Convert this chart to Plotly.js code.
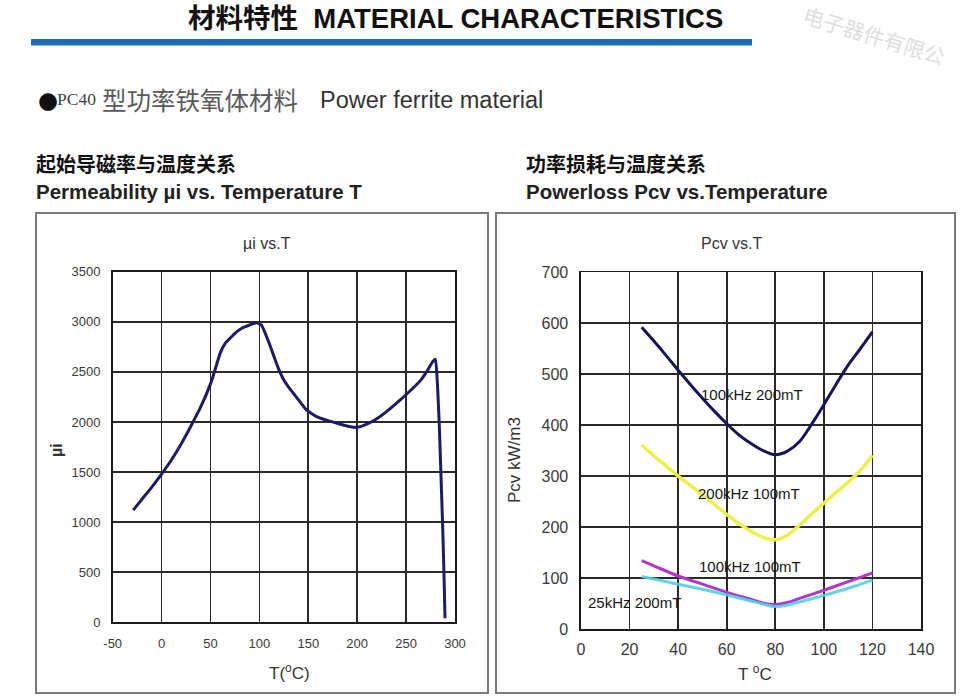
<!DOCTYPE html>
<html>
<head>
<meta charset="utf-8">
<script src="https://cdn.plot.ly/plotly-3.0.1.min.js"></script>
<style>
  html, body { margin: 0; padding: 0; background: #ffffff; }
  #chart { width: 960px; height: 697px; }
</style>
</head>
<body>
<div id="chart"></div>
<script>
// ---- Initial permeability vs temperature ----
const permTemp = [-29, -20, -10, 0, 10, 20, 30, 40, 50, 54, 60, 65, 70, 75, 82, 90, 97, 102, 106, 110, 115, 120, 125, 132, 140, 148, 158, 170, 182, 192, 200, 208, 218, 230, 242, 255, 265, 272, 277, 280, 282, 284, 285.7, 287.4, 288.8, 289.8];
const permMu   = [1120, 1230, 1350, 1480, 1620, 1780, 1960, 2150, 2380, 2500, 2690, 2785, 2835, 2885, 2935, 2968, 2990, 2968, 2885, 2785, 2650, 2520, 2420, 2320, 2220, 2120, 2055, 2013, 1980, 1955, 1946, 1970, 2019, 2103, 2202, 2319, 2418, 2518, 2600, 2625, 2385, 1953, 1454, 955, 456, 40];
const permTickVals  = [-50, 0, 50, 100, 150, 200, 250, 300];
const permTickText  = ['-50', '0', '50', '100', '150', '200', '250', '300'];

// ---- Core loss vs temperature ----
const lossTemp200mT100k = [25, 30, 35, 40, 45, 50, 55, 60, 65, 70, 75, 80, 85, 90, 95, 100, 105, 110, 115, 120];
const loss200mT100k     = [592, 565, 537, 508, 480, 453, 427, 403, 381, 364, 350, 342, 349, 368, 402, 440, 480, 518, 550, 583];

const lossTemp100mT200k = [25, 30, 35, 40, 45, 50, 55, 60, 65, 70, 75, 80, 85, 90, 95, 100, 105, 110, 115, 120];
const loss100mT200k     = [361, 340, 320, 300, 282, 263, 244, 225, 207, 192, 180, 175, 184, 204, 226, 247, 268, 288, 311, 341];

const lossTemp100mT100k = [25, 30, 40, 50, 60, 70, 75, 80, 85, 90, 100, 110, 115, 120];
const loss100mT100k     = [134, 124, 104, 88, 72, 58, 51, 48, 52, 60, 76, 93, 101, 110];

const lossTemp200mT25k  = [25, 30, 40, 50, 60, 70, 75, 80, 85, 90, 100, 110, 120];
const loss200mT25k      = [103, 98, 88, 78, 67, 55, 49, 44, 47, 53, 66, 80, 96];

const curveLabels = ['100kHz 200mT', '200kHz 100mT', '100kHz 100mT', '25kHz 200mT'];
const curveLabelX = [70.3, 69.3, 69.6, 22.2];
const curveLabelY = [460, 266, 122, 52];

// ---- Text ----
const pageTitle   = '材料特性  MATERIAL CHARACTERISTICS';
const gradeName   = 'PC40';
const gradeCn     = '型功率铁氧体材料';
const gradeEn     = 'Power ferrite material';
const leftHeadCn  = '起始导磁率与温度关系';
const leftHeadEn  = 'Permeability µi vs. Temperature T';
const rightHeadCn = '功率损耗与温度关系';
const rightHeadEn = 'Powerloss Pcv vs.Temperature';
const leftPlotTitle  = 'µi vs.T';
const rightPlotTitle = 'Pcv vs.T';
const leftXTitle  = 'T(<sup>o</sup>C)';
const leftYTitle  = 'µi';
const rightXTitle = 'T <sup>o</sup>C';
const rightYTitle = 'Pcv kW/m3';
const stampText   = '电子器件有限公';

const W = 960, H = 697;
const px = x => x / W;
const py = y => 1 - y / H;

const SANS = 'Liberation Sans, Arial, Noto Sans CJK SC, sans-serif';
const CJK  = 'Noto Sans CJK SC, sans-serif';

const traces = [
  { x: permTemp, y: permMu, xaxis: 'x', yaxis: 'y', mode: 'lines',
    line: { color: '#1c1c66', width: 3, shape: 'spline', smoothing: 0.4 }, hoverinfo: 'skip' },
  { x: lossTemp200mT100k, y: loss200mT100k, xaxis: 'x2', yaxis: 'y2', mode: 'lines',
    line: { color: '#14145a', width: 3, shape: 'spline', smoothing: 0.8 }, hoverinfo: 'skip' },
  { x: lossTemp100mT200k, y: loss100mT200k, xaxis: 'x2', yaxis: 'y2', mode: 'lines',
    line: { color: '#eef04a', width: 3.5, shape: 'spline', smoothing: 0.8 }, hoverinfo: 'skip' },
  { x: lossTemp100mT100k, y: loss100mT100k, xaxis: 'x2', yaxis: 'y2', mode: 'lines',
    line: { color: '#b335c9', width: 3, shape: 'spline', smoothing: 0.8 }, hoverinfo: 'skip' },
  { x: lossTemp200mT25k, y: loss200mT25k, xaxis: 'x2', yaxis: 'y2', mode: 'lines',
    line: { color: '#4fd2e2', width: 3, shape: 'spline', smoothing: 0.8 }, opacity: 0.9, hoverinfo: 'skip' }
];

const gridAxis = {
  showgrid: true, gridcolor: '#2a2a2a', gridwidth: 1.6,
  showline: true, mirror: true, linecolor: '#1a1a1a', linewidth: 1.6,
  zeroline: false, ticks: '', fixedrange: true
};

function txt(text, x, y, size, opts) {
  return Object.assign({
    text: text, x: px(x), y: py(y), xref: 'paper', yref: 'paper',
    showarrow: false, xanchor: 'left', yanchor: 'middle',
    font: { family: SANS, size: size, color: '#222' }
  }, opts || {});
}

const annotations = [
  txt('<b>' + pageTitle + '</b>', 455, 18, 27.5, { xanchor: 'center', font: { family: SANS, size: 27.5, color: '#111' } }),
  txt('●', 36, 100, 23, { font: { family: 'DejaVu Sans', size: 23, color: '#111' } }),
  txt(gradeName, 55, 99, 17.5, { font: { family: 'Liberation Serif, serif', size: 17.5, color: '#444' } }),
  txt(gradeCn, 100, 100, 24.5, { font: { family: CJK, size: 24.5, color: '#5a5a5a' } }),
  txt(gradeEn, 318, 100, 23.5, { font: { family: SANS, size: 23.5, color: '#333' } }),
  txt('<b>' + leftHeadCn + '</b>', 34, 163, 20, { font: { family: CJK, size: 20, color: '#111' } }),
  txt('<b>' + leftHeadEn + '</b>', 34, 192, 20.5, { font: { family: SANS, size: 20.5, color: '#222' } }),
  txt('<b>' + rightHeadCn + '</b>', 524, 163, 20, { font: { family: CJK, size: 20, color: '#111' } }),
  txt('<b>' + rightHeadEn + '</b>', 524, 192, 20.5, { font: { family: SANS, size: 20.5, color: '#222' } }),
  txt(leftPlotTitle, 267, 243, 16, { xanchor: 'center', font: { family: SANS, size: 16, color: '#333' } }),
  txt(rightPlotTitle, 732, 243, 16, { xanchor: 'center', font: { family: SANS, size: 16, color: '#333' } }),
  txt(leftXTitle, 289, 672, 17, { xanchor: 'center', font: { family: SANS, size: 17, color: '#333' } }),
  txt(rightXTitle, 755, 673, 17, { xanchor: 'center', font: { family: SANS, size: 17, color: '#333' } }),
  txt('<b>' + leftYTitle + '</b>', 56, 450, 16, { xanchor: 'center', textangle: -90, font: { family: SANS, size: 16, color: '#333' } }),
  txt(rightYTitle, 515, 460, 17, { xanchor: 'center', textangle: -90, font: { family: SANS, size: 17, color: '#333' } }),
  txt(stampText, 874, 35, 21, { xanchor: 'center', textangle: 17, font: { family: CJK, size: 21, color: '#dedede' } })
];

curveLabels.forEach((t, i) => {
  annotations.push({
    text: t, x: curveLabelX[i], y: curveLabelY[i], xref: 'x2', yref: 'y2',
    showarrow: false, xanchor: 'center', yanchor: 'middle',
    font: { family: SANS, size: 15, color: '#151515' }
  });
});

const shapes = [
  // heading rule
  { type: 'rect', xref: 'paper', yref: 'paper', x0: px(31), x1: px(752), y0: py(45.5), y1: py(39),
    fillcolor: '#1f6bb5', line: { width: 0 } },
  // panel frames
  { type: 'rect', xref: 'paper', yref: 'paper', x0: px(36), x1: px(488), y0: py(693), y1: py(213),
    line: { color: '#7a7a7a', width: 2 } },
  { type: 'rect', xref: 'paper', yref: 'paper', x0: px(496), x1: px(955), y0: py(693), y1: py(213),
    line: { color: '#7a7a7a', width: 2 } }
];

const layout = {
  width: W, height: H,
  margin: { l: 0, r: 0, t: 0, b: 0 },
  paper_bgcolor: '#ffffff', plot_bgcolor: '#ffffff',
  showlegend: false,
  xaxis: Object.assign({}, gridAxis, {
    domain: [px(112.7), px(455)], range: [-50, 300],
    tickmode: 'array', tickvals: permTickVals, ticktext: permTickText,
    tickfont: { family: SANS, size: 13, color: '#3a3a3a' }, ticklabelstandoff: 8
  }),
  yaxis: Object.assign({}, gridAxis, {
    domain: [py(622.3), py(271.7)], range: [0, 3500], tick0: 0, dtick: 500,
    tickfont: { family: SANS, size: 13, color: '#3a3a3a' }, ticklabelstandoff: 8
  }),
  xaxis2: Object.assign({}, gridAxis, {
    anchor: 'y2', domain: [px(581), px(921)], range: [0, 140], tick0: 0, dtick: 20,
    tickfont: { family: SANS, size: 16, color: '#3a3a3a' }, ticklabelstandoff: 5
  }),
  yaxis2: Object.assign({}, gridAxis, {
    anchor: 'x2', domain: [py(629), py(272.3)], range: [0, 700], tick0: 0, dtick: 100,
    tickfont: { family: SANS, size: 16, color: '#3a3a3a' }, ticklabelstandoff: 8
  }),
  annotations: annotations,
  shapes: shapes
};

Plotly.newPlot('chart', traces, layout, { staticPlot: true, displayModeBar: false });
</script>
</body>
</html>
